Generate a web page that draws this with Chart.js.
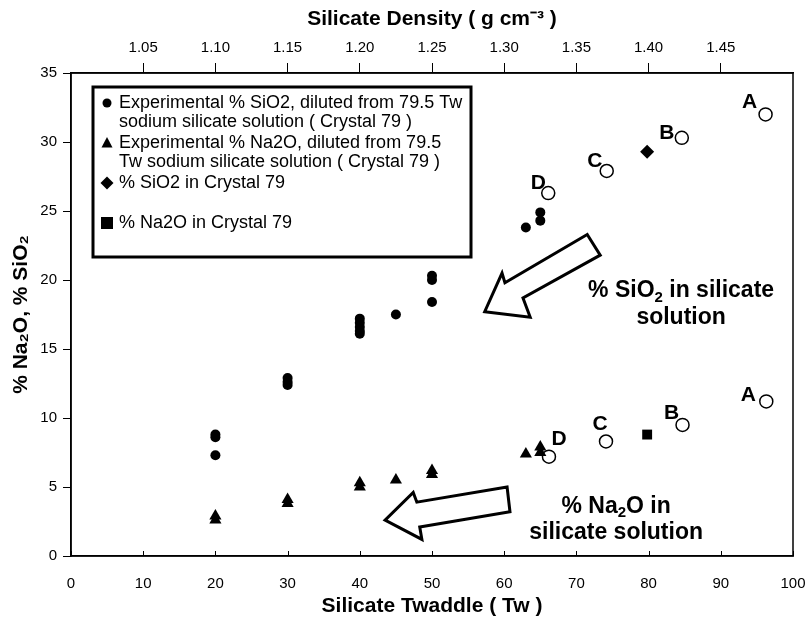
<!DOCTYPE html>
<html>
<head>
<meta charset="utf-8">
<script src="https://cdn.jsdelivr.net/npm/chart.js@4.4.1/dist/chart.umd.min.js"></script>
<style>
  html, body { margin: 0; padding: 0; background: #fff; }
  canvas { display: block; }
</style>
</head>
<body>
<canvas id="chart" width="811" height="620"></canvas>
<script>
const FONT = "'Liberation Sans', Arial, Helvetica, sans-serif";

// experimental points, diluted from 79.5 Tw
const sio2Tw = [20, 20, 20, 30, 30, 30, 40, 40, 40, 40, 40, 45, 50, 50, 50, 63, 65, 65];
const sio2Exp = [8.8, 8.6, 7.3, 12.9, 12.6, 12.4, 17.2, 16.9, 16.6, 16.3, 16.1, 17.5, 20.3, 20.0, 18.4, 23.8, 24.9, 24.3];
const na2oTw = [20, 20, 30, 30, 40, 40, 45, 50, 50, 63, 65, 65];
const na2oExp = [2.9, 2.6, 4.1, 3.8, 5.3, 5.0, 5.5, 6.2, 5.9, 7.4, 7.9, 7.5];

// Crystal 79
const crystalTw = [79.8];
const crystalSio2 = [29.3];
const crystalNa2o = [8.8];

// literature solutions A-D (open circles)
const litNames = ['A', 'B', 'C', 'D'];
const litSio2Tw = [96.2, 84.6, 74.2, 66.1];
const litSio2 = [32.0, 30.3, 27.9, 26.3];
const litNa2oTw = [96.3, 84.7, 74.1, 66.2];
const litNa2o = [11.2, 9.5, 8.3, 7.2];

// axes
const twTicks = [0, 10, 20, 30, 40, 50, 60, 70, 80, 90, 100];
const densityTicks = [1.05, 1.10, 1.15, 1.20, 1.25, 1.30, 1.35, 1.40, 1.45];
const pctTicks = [0, 5, 10, 15, 20, 25, 30, 35];

// block arrows, in data units (Tw, %)
const sio2Arrow = [[71.5, 23.3], [60.1, 19.8], [59.7, 20.5], [57.3, 17.7], [63.6, 17.3], [62.6, 18.7], [73.3, 21.8]];
const na2oArrow = [[60.4, 5.0], [47.9, 3.9], [47.4, 4.6], [43.5, 2.6], [48.6, 1.2], [48.3, 2.1], [60.8, 3.2]];

const legendRows = [
    { marker: 'circle', lines: ['Experimental % SiO2, diluted from 79.5 Tw', 'sodium silicate solution ( Crystal 79 )'] },
    { marker: 'triangle', lines: ['Experimental % Na2O, diluted from 79.5', 'Tw sodium silicate solution ( Crystal 79 )'] },
    { marker: 'diamond', lines: ['% SiO2 in Crystal 79'] },
    { marker: 'square', lines: ['% Na2O in Crystal 79'] }
];

function pts(xs, ys) {
    return xs.map((x, i) => ({ x, y: ys[i] }));
}

function drawMarker(ctx, kind, x, y) {
    ctx.beginPath();
    if (kind === 'circle') {
        ctx.arc(x, y, 4.5, 0, Math.PI * 2);
    } else if (kind === 'triangle') {
        ctx.moveTo(x, y - 6);
        ctx.lineTo(x + 5.5, y + 4.5);
        ctx.lineTo(x - 5.5, y + 4.5);
        ctx.closePath();
    } else if (kind === 'diamond') {
        ctx.moveTo(x, y - 6.5);
        ctx.lineTo(x + 6.5, y);
        ctx.lineTo(x, y + 6.5);
        ctx.lineTo(x - 6.5, y);
        ctx.closePath();
    } else {
        ctx.rect(x - 6, y - 6, 12, 12);
    }
    ctx.fill();
}

// text with "2" subscripts after chemical symbols
function subText(ctx, parts, cx, cy, size) {
    const big = `bold ${size}px ${FONT}`;
    const small = `bold ${Math.round(size * 0.65)}px ${FONT}`;
    let w = 0;
    parts.forEach(p => {
        ctx.font = p.sub ? small : big;
        w += ctx.measureText(p.t).width;
    });
    let x = cx - w / 2;
    ctx.textAlign = 'left';
    ctx.textBaseline = 'middle';
    parts.forEach(p => {
        ctx.font = p.sub ? small : big;
        ctx.fillText(p.t, x, p.sub ? cy + size * 0.3 : cy);
        x += ctx.measureText(p.t).width;
    });
}

const extras = {
    id: 'extras',
    afterDraw(chart) {
        const { ctx, chartArea, scales } = chart;
        const sx = scales.x, sy = scales.y;
        ctx.save();

        // frame
        ctx.strokeStyle = '#000';
        ctx.lineWidth = 1.5;
        ctx.strokeRect(chartArea.left, chartArea.top, chartArea.right - chartArea.left, chartArea.bottom - chartArea.top);

        // inward ticks on the bottom axis
        ctx.lineWidth = 1;
        twTicks.forEach(v => {
            const px = Math.round(sx.getPixelForValue(v)) + 0.5;
            ctx.beginPath();
            ctx.moveTo(px, chartArea.bottom);
            ctx.lineTo(px, chartArea.bottom - 5);
            ctx.stroke();
        });

        // arrows
        [sio2Arrow, na2oArrow].forEach(poly => {
            ctx.beginPath();
            poly.forEach(([x, y], i) => {
                const px = sx.getPixelForValue(x), py = sy.getPixelForValue(y);
                if (i === 0) ctx.moveTo(px, py); else ctx.lineTo(px, py);
            });
            ctx.closePath();
            ctx.fillStyle = '#fff';
            ctx.fill();
            ctx.lineWidth = 3;
            ctx.lineJoin = 'miter';
            ctx.strokeStyle = '#000';
            ctx.stroke();
        });

        // annotation texts
        ctx.fillStyle = '#000';
        const siX = sx.getPixelForValue(84.5), siY = sy.getPixelForValue(19.2);
        const naX = sx.getPixelForValue(75.5), naY = sy.getPixelForValue(3.6);
        subText(ctx, [{ t: '% SiO' }, { t: '2', sub: true }, { t: ' in silicate' }], siX, siY, 23);
        subText(ctx, [{ t: 'solution' }], siX, siY + 27, 23);
        subText(ctx, [{ t: '% Na' }, { t: '2', sub: true }, { t: 'O in' }], naX, naY, 23);
        subText(ctx, [{ t: 'silicate solution' }], naX, naY + 26, 23);

        // A-D labels next to the open circles
        ctx.font = `bold 21px ${FONT}`;
        ctx.textAlign = 'center';
        ctx.textBaseline = 'middle';
        const siOff = [[-16, -12], [-15, -5], [-12, -10], [-10, -10]];
        const naOff = [[-18, -6], [-11, -12], [-6, -17], [10, -17]];
        chart.getDatasetMeta(4).data.forEach((p, i) => ctx.fillText(litNames[i], p.x + siOff[i][0], p.y + siOff[i][1]));
        chart.getDatasetMeta(5).data.forEach((p, i) => ctx.fillText(litNames[i], p.x + naOff[i][0], p.y + naOff[i][1]));

        // legend box
        const lx = chartArea.left + 22, ly = chartArea.top + 14;
        ctx.fillStyle = '#fff';
        ctx.fillRect(lx, ly, 378, 170);
        ctx.lineWidth = 3;
        ctx.strokeRect(lx, ly, 378, 170);
        ctx.fillStyle = '#000';
        ctx.textAlign = 'left';
        const rowY = [[16, 35], [56, 75], [96], [136]];
        legendRows.forEach((row, i) => {
            drawMarker(ctx, row.marker, lx + 14, ly + rowY[i][0]);
            ctx.font = `18px ${FONT}`;
            row.lines.forEach((line, j) => ctx.fillText(line, lx + 26, ly + rowY[i][j]));
        });

        ctx.restore();
    }
};

const white = {
    id: 'white',
    beforeDraw(chart) {
        const { ctx } = chart;
        ctx.save();
        ctx.fillStyle = '#fff';
        ctx.fillRect(0, 0, chart.width, chart.height);
        ctx.restore();
    }
};

const tickFont = { family: FONT, size: 15 };
const titleFont = { family: FONT, size: 21, weight: 'bold' };

new Chart(document.getElementById('chart'), {
    type: 'scatter',
    data: {
        datasets: [
            { data: pts(sio2Tw, sio2Exp), pointStyle: 'circle', pointRadius: 5, backgroundColor: '#000', borderColor: '#000', borderWidth: 0 },
            { data: pts(na2oTw, na2oExp), pointStyle: 'triangle', pointRadius: 7, backgroundColor: '#000', borderColor: '#000', borderWidth: 0 },
            { data: pts(crystalTw, crystalSio2), pointStyle: 'rectRot', pointRadius: 7, backgroundColor: '#000', borderColor: '#000', borderWidth: 0 },
            { data: pts(crystalTw, crystalNa2o), pointStyle: 'rect', pointRadius: 7, backgroundColor: '#000', borderColor: '#000', borderWidth: 0 },
            { data: pts(litSio2Tw, litSio2), pointStyle: 'circle', pointRadius: 6.5, backgroundColor: '#fff', borderColor: '#000', borderWidth: 1.5 },
            { data: pts(litNa2oTw, litNa2o), pointStyle: 'circle', pointRadius: 6.5, backgroundColor: '#fff', borderColor: '#000', borderWidth: 1.5 }
        ]
    },
    options: {
        responsive: false,
        animation: false,
        layout: { padding: { right: 18, left: 0, top: 0, bottom: 0 } },
        plugins: {
            legend: { display: false },
            tooltip: { enabled: false }
        },
        scales: {
            x: {
                type: 'linear',
                position: 'bottom',
                min: 0,
                max: 100,
                afterBuildTicks: s => { s.ticks = twTicks.map(value => ({ value })); },
                afterFit: s => { s.height = 64; s.paddingLeft = 0; s.paddingRight = 0; },
                ticks: { color: '#000', font: tickFont, padding: 19, maxRotation: 0 },
                grid: { drawOnChartArea: false, drawTicks: false },
                border: { color: '#000', width: 1.5 },
                title: { display: true, text: 'Silicate Twaddle ( Tw )', color: '#000', font: titleFont, padding: { bottom: 1 } }
            },
            x2: {
                type: 'linear',
                position: 'top',
                min: 1.0,
                max: 1.5,
                afterBuildTicks: s => { s.ticks = densityTicks.map(value => ({ value })); },
                afterFit: s => { s.height = 73; s.paddingLeft = 0; s.paddingRight = 0; },
                ticks: { color: '#000', font: tickFont, padding: 6, maxRotation: 0, callback: v => v.toFixed(2) },
                grid: { drawOnChartArea: false, tickLength: 10, color: '#000' },
                border: { color: '#000', width: 1.5 },
                title: { display: true, text: 'Silicate Density ( g cm\u207B\u00B3 )', color: '#000', font: titleFont, padding: { top: 7 } }
            },
            y: {
                type: 'linear',
                min: 0,
                max: 35,
                afterBuildTicks: s => { s.ticks = pctTicks.map(value => ({ value })); },
                afterFit: s => { s.width = 71; s.paddingTop = 0; s.paddingBottom = 0; },
                ticks: { color: '#000', font: tickFont, padding: 6 },
                grid: { drawOnChartArea: false, tickLength: 8, color: '#000' },
                border: { color: '#000', width: 1.5 },
                title: { display: true, text: '% Na\u2082O, % SiO\u2082', color: '#000', font: titleFont, padding: { top: 9 } }
            }
        }
    },
    plugins: [white, extras]
});
</script>
</body>
</html>
